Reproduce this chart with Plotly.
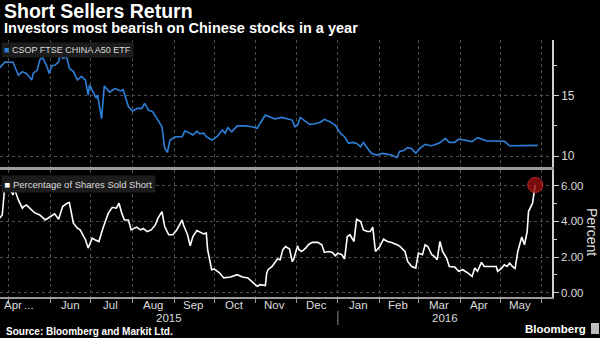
import plotly.graph_objects as go
import pandas as pd

# ---------------- data ----------------
etf_dates = [
    "2015-04-24", "2015-04-28", "2015-05-02", "2015-05-04", "2015-05-08", "2015-05-11", "2015-05-14",
    "2015-05-18", "2015-05-19", "2015-05-22", "2015-05-24", "2015-05-26", "2015-05-29", "2015-05-31",
    "2015-06-02", "2015-06-04", "2015-06-07", "2015-06-08", "2015-06-10", "2015-06-13", "2015-06-15",
    "2015-06-18", "2015-06-21", "2015-06-24", "2015-06-27", "2015-06-29", "2015-06-30", "2015-07-03",
    "2015-07-05", "2015-07-06", "2015-07-09", "2015-07-11", "2015-07-15", "2015-07-19", "2015-07-23",
    "2015-07-25", "2015-07-29", "2015-08-01", "2015-08-05", "2015-08-08", "2015-08-10", "2015-08-13",
    "2015-08-16", "2015-08-20", "2015-08-23", "2015-08-25", "2015-08-27", "2015-08-29", "2015-09-02",
    "2015-09-07", "2015-09-09", "2015-09-11", "2015-09-15", "2015-09-18", "2015-09-20", "2015-09-23",
    "2015-09-25", "2015-09-29", "2015-10-03", "2015-10-07", "2015-10-09", "2015-10-11", "2015-10-14",
    "2015-10-18", "2015-10-24", "2015-10-29", "2015-11-02", "2015-11-04", "2015-11-08", "2015-11-11",
    "2015-11-15", "2015-11-20", "2015-11-24", "2015-11-28", "2015-11-30", "2015-12-02", "2015-12-04",
    "2015-12-08", "2015-12-11", "2015-12-15", "2015-12-19", "2015-12-22", "2015-12-26", "2015-12-30",
    "2016-01-03", "2016-01-06", "2016-01-09", "2016-01-12", "2016-01-15", "2016-01-18", "2016-01-20",
    "2016-01-23", "2016-01-26", "2016-01-30", "2016-02-03", "2016-02-07", "2016-02-10", "2016-02-14",
    "2016-02-16", "2016-02-19", "2016-02-22", "2016-02-25", "2016-02-28", "2016-02-29", "2016-03-02",
    "2016-03-06", "2016-03-10", "2016-03-12", "2016-03-15", "2016-03-17", "2016-03-21", "2016-03-24",
    "2016-03-28", "2016-03-31", "2016-04-03", "2016-04-07", "2016-04-10", "2016-04-14", "2016-04-17",
    "2016-04-21", "2016-04-26", "2016-05-01", "2016-05-04", "2016-05-08", "2016-05-16", "2016-05-23",
    "2016-05-27", "2016-05-29",
]
etf_values = [
    17.3, 17.8, 17.77, 17.77, 16.7, 17.0, 16.85,
    16.3, 16.85, 17.1, 17.96, 18.2, 17.5, 16.85,
    17.5, 17.5, 17.8, 18.4, 18.1, 18.2, 17.27,
    17.0, 16.3, 16.6, 16.3, 15.05, 15.9, 15.3,
    14.8, 15.05, 13.1, 15.8, 15.3, 15.6, 15.4,
    15.5, 14.1, 13.73, 13.95, 13.95, 14.37, 13.8,
    13.67, 12.98, 12.43, 10.64, 10.3, 11.33, 11.6,
    11.6, 12.07, 12.0, 11.74, 12.07, 11.85, 11.9,
    11.6, 11.33, 11.6, 12.15, 11.88, 12.35, 12.0,
    12.5, 12.5, 12.43, 12.3, 12.7, 13.4, 13.26,
    13.07, 13.2, 13.07, 12.98, 12.43, 12.57, 13.2,
    12.85, 12.63, 12.68, 12.8, 13.04, 12.85, 12.57,
    11.88, 11.6, 11.05, 11.13, 11.05, 10.77, 11.13,
    10.64, 10.22, 10.08, 10.22, 10.14, 10.08, 9.86,
    10.38, 10.45, 10.69, 10.6, 10.22, 10.35, 10.64,
    10.97, 10.85, 10.9, 11.05, 11.1, 11.47, 11.13,
    11.13, 11.4, 11.35, 11.24, 11.2, 11.52, 11.4,
    11.24, 11.24, 11.19, 11.22, 10.85, 10.85, 10.85,
    10.9, 10.88,
]

short_dates = [
    "2015-04-24", "2015-04-26", "2015-04-28", "2015-04-30", "2015-05-02", "2015-05-04", "2015-05-05",
    "2015-05-08", "2015-05-11", "2015-05-12", "2015-05-14", "2015-05-17", "2015-05-20", "2015-05-24",
    "2015-05-28", "2015-06-01", "2015-06-04", "2015-06-07", "2015-06-10", "2015-06-13", "2015-06-15",
    "2015-06-18", "2015-06-21", "2015-06-23", "2015-06-27", "2015-06-29", "2015-07-02", "2015-07-04",
    "2015-07-07", "2015-07-10", "2015-07-14", "2015-07-17", "2015-07-20", "2015-07-22", "2015-07-24",
    "2015-07-26", "2015-07-29", "2015-07-31", "2015-08-04", "2015-08-07", "2015-08-09", "2015-08-12",
    "2015-08-15", "2015-08-18", "2015-08-20", "2015-08-23", "2015-08-25", "2015-08-28", "2015-08-31",
    "2015-09-03", "2015-09-07", "2015-09-08", "2015-09-11", "2015-09-13", "2015-09-15", "2015-09-18",
    "2015-09-20", "2015-09-23", "2015-09-25", "2015-09-26", "2015-09-29", "2015-10-01", "2015-10-05",
    "2015-10-08", "2015-10-13", "2015-10-18", "2015-10-22", "2015-10-26", "2015-10-30", "2015-11-02",
    "2015-11-04", "2015-11-08", "2015-11-09", "2015-11-10", "2015-11-13", "2015-11-15", "2015-11-17",
    "2015-11-19", "2015-11-21", "2015-11-23", "2015-11-26", "2015-11-28", "2015-11-29", "2015-12-02",
    "2015-12-03", "2015-12-05", "2015-12-08", "2015-12-10", "2015-12-13", "2015-12-17", "2015-12-20",
    "2015-12-22", "2015-12-25", "2015-12-28", "2015-12-30", "2016-01-01", "2016-01-04", "2016-01-06",
    "2016-01-08", "2016-01-10", "2016-01-13", "2016-01-14", "2016-01-15", "2016-01-18", "2016-01-20",
    "2016-01-23", "2016-01-25", "2016-01-27", "2016-01-29", "2016-02-01", "2016-02-04", "2016-02-07",
    "2016-02-10", "2016-02-14", "2016-02-16", "2016-02-20", "2016-02-22", "2016-02-25", "2016-02-28",
    "2016-03-01", "2016-03-04", "2016-03-06", "2016-03-08", "2016-03-11", "2016-03-13", "2016-03-15",
    "2016-03-17", "2016-03-19", "2016-03-22", "2016-03-24", "2016-03-28", "2016-03-31", "2016-04-03",
    "2016-04-07", "2016-04-10", "2016-04-12", "2016-04-14", "2016-04-17", "2016-04-19", "2016-04-23",
    "2016-04-28", "2016-04-29", "2016-05-02", "2016-05-04", "2016-05-06", "2016-05-08", "2016-05-10",
    "2016-05-12", "2016-05-14", "2016-05-17", "2016-05-19", "2016-05-21", "2016-05-22", "2016-05-25",
    "2016-05-26", "2016-05-27",
]
short_values = [
    4.18, 4.36, 6.04, 6.04, 5.76, 5.48, 5.85,
    5.2, 4.74, 4.83, 4.92, 4.68, 4.49, 4.36,
    4.08, 4.27, 4.42, 4.12, 4.83, 5.0, 5.05,
    3.9, 3.62, 3.52, 2.97, 2.5, 3.06, 2.97,
    2.87, 3.62, 4.46, 4.79, 4.74, 5.02, 4.46,
    4.08, 4.08, 3.52, 3.68, 3.52, 3.6, 3.43,
    3.52, 3.8, 4.18, 4.55, 3.71, 3.25, 3.25,
    3.52, 4.08, 3.8, 3.25, 2.63, 3.15, 3.49,
    3.43, 3.3, 3.34, 2.41, 1.29, 1.33, 1.1,
    0.83, 0.88, 1.01, 0.88, 0.83, 0.55, 0.36,
    0.45, 0.4, 1.1, 1.29, 1.47, 1.66, 1.89,
    1.85, 2.41, 2.59, 2.45, 1.75, 1.85, 2.63,
    2.41, 2.31, 2.5, 2.69, 2.82, 2.82, 2.69,
    2.26, 2.31, 2.26, 2.07, 2.22, 2.13, 1.89,
    3.15, 3.25, 2.87, 3.52, 4.12, 3.99, 3.52,
    3.43, 3.43, 3.68, 2.31, 2.56, 3.0, 2.87,
    2.82, 2.69, 2.61, 2.31, 1.75, 1.47, 1.38,
    2.22, 2.13, 2.69, 2.59, 2.13, 2.03, 1.85,
    2.87, 2.31, 1.94, 1.47, 1.44, 1.2, 1.29,
    1.1, 0.92, 1.38, 1.2, 1.7, 1.47, 1.47,
    1.47, 1.2, 1.38, 1.57, 1.47, 1.66, 1.47,
    1.35, 2.31, 3.12, 2.69, 3.43, 4.55, 5.02,
    5.58, 6.04,
]

month_starts = [
    "2015-05-01", "2015-06-01", "2015-07-01", "2015-08-01", "2015-09-01", "2015-10-01",
    "2015-11-01", "2015-12-01", "2016-01-01", "2016-02-01", "2016-03-01", "2016-04-01",
    "2016-05-01", "2016-06-01",
]
month_labels = ["...", "Jun", "Jul", "Aug", "Sep", "Oct", "Nov", "Dec", "Jan", "Feb", "Mar", "Apr", "May"]
month_label_pos = [
    "2015-05-16", "2015-06-16", "2015-07-16", "2015-08-16", "2015-09-15", "2015-10-16",
    "2015-11-15", "2015-12-16", "2016-01-16", "2016-02-15", "2016-03-16", "2016-04-15",
    "2016-05-16",
]
first_label = "Apr"
year_labels = ["2015", "2016"]
year_break = "2016-01-01"
x_range = ["2015-04-24 08:00", "2016-06-08 12:00"]

etf_ticks = [10, 15]
etf_minor = [12.5, 17.5]
short_ticks = [0, 2, 4, 6]
short_minor = [1, 3, 5]

# ---------------- style ----------------
BLUE = "#2d80d9"
GRID = "#4d4d4d"
AXIS = "#cfcfcf"
BORDER = "#9a9a9a"
TXT = "#dcdcdc"
FONT = "Liberation Sans, Arial, sans-serif"
BFONT = "Liberation Sans, Arial, sans-serif"

W, H = 600, 338
ML, MR, MT, MB = 0, 48, 40, 41
PH = H - MT - MB  # plot height in px
PW = W - ML - MR


def py(p):
    """pixel y (from top) -> paper y"""
    return (H - MB - p) / PH


def px(p):
    return (p - ML) / PW


fig = go.Figure()
fig.add_trace(go.Scatter(x=etf_dates, y=etf_values, mode="lines",
                         line=dict(color=BLUE, width=1.6), xaxis="x", yaxis="y",
                         hoverinfo="skip"))
fig.add_trace(go.Scatter(x=short_dates, y=short_values, mode="lines",
                         line=dict(color="#ffffff", width=1.6), xaxis="x2", yaxis="y2",
                         hoverinfo="skip"))
fig.add_trace(go.Scatter(x=[short_dates[-1]], y=[short_values[-1]], mode="markers",
                         marker=dict(size=15, color="rgba(150,15,15,0.8)",
                                     line=dict(color="rgba(210,40,40,0.9)", width=1)),
                         xaxis="x2", yaxis="y2", hoverinfo="skip"))

common_x = dict(type="date", range=x_range, tickvals=month_starts, showticklabels=False,
                showgrid=True, gridcolor=GRID, griddash="dot", gridwidth=1, zeroline=False)

yaxis_top = dict(domain=[py(167), 1], anchor="x", side="right", range=[9.09, 19.62],
                 tickvals=etf_ticks, ticks="outside", ticklen=5, tickcolor=AXIS,
                 tickfont=dict(family=BFONT, size=12, color=TXT),
                 minor=dict(tickvals=etf_minor, ticks="outside", ticklen=3, tickcolor=AXIS, showgrid=False),
                 showgrid=True, gridcolor=GRID, griddash="dot", zeroline=False,
                 showline=True, linecolor=AXIS, linewidth=1.5)
yaxis_bot = dict(domain=[0, py(170)], anchor="x2", side="right", range=[-0.24, 6.88],
                 tickvals=short_ticks, tickformat=".2f", ticks="outside", ticklen=5, tickcolor=AXIS,
                 tickfont=dict(family=BFONT, size=11.5, color=TXT),
                 minor=dict(tickvals=short_minor, ticks="outside", ticklen=3, tickcolor=AXIS, showgrid=False),
                 showgrid=True, gridcolor=GRID, griddash="dot", zeroline=False,
                 showline=True, linecolor=AXIS, linewidth=1.5)

fig.update_layout(
    width=W, height=H,
    margin=dict(l=ML, r=MR, t=MT, b=MB),
    paper_bgcolor="#000000", plot_bgcolor="#000000",
    showlegend=False,
    xaxis=dict(anchor="y", ticks="", showline=True, linecolor=BORDER, linewidth=1.5, **common_x),
    xaxis2=dict(anchor="y2", ticks="outside", ticklen=4, tickcolor=BORDER,
                showline=True, mirror=True, linecolor=BORDER, linewidth=1.5, **common_x),
    yaxis=yaxis_top,
    yaxis2=yaxis_bot,
)

ann = []
# title / subtitle
ann.append(dict(text="<b>Short Sellers Return</b>", xref="paper", yref="paper", x=px(2), y=py(11),
                xanchor="left", yanchor="middle", showarrow=False,
                font=dict(family=BFONT, size=19.5, color="#ffffff")))
ann.append(dict(text="<b>Investors most bearish on Chinese stocks in a year</b>", xref="paper", yref="paper",
                x=px(2), y=py(28), xanchor="left", yanchor="middle", showarrow=False,
                font=dict(family=BFONT, size=14.5, color="#ffffff")))
# legend boxes
ann.append(dict(text=f"<span style='color:{BLUE}'>■</span> CSOP FTSE CHINA A50 ETF", xref="paper", yref="paper",
                x=px(1), y=py(42), xanchor="left", yanchor="top", showarrow=False, bgcolor="#1c1c1c",
                borderpad=2, font=dict(family=FONT, size=9, color=TXT)))
ann.append(dict(text="<span style='color:#ffffff'>■</span> Percentage of Shares Sold Short", xref="paper",
                yref="paper", x=px(1), y=py(175), xanchor="left", yanchor="top", showarrow=False,
                bgcolor="#1c1c1c", borderpad=2.5, font=dict(family=FONT, size=9.5, color=TXT)))
# month labels
ann.append(dict(text=first_label, xref="paper", yref="paper", x=px(2), y=py(305), xanchor="left",
                yanchor="middle", showarrow=False, font=dict(family=FONT, size=11.5, color=TXT)))
for lab, pos in zip(month_labels, month_label_pos):
    ann.append(dict(text=lab, xref="x2", yref="paper", x=pos, y=py(305), xanchor="center",
                    yanchor="middle", showarrow=False, font=dict(family=FONT, size=11.5, color=TXT)))
# year labels centred in their visible spans
t0, t1, tb = pd.Timestamp(x_range[0]), pd.Timestamp(x_range[1]), pd.Timestamp(year_break)
year_pos = [t0 + (tb - t0) / 2, tb + (t1 - tb) / 2]
for lab, pos in zip(year_labels, year_pos):
    ann.append(dict(text=lab, xref="x2", yref="paper", x=pos.strftime("%Y-%m-%d %H:%M"), y=py(318),
                    xanchor="center", yanchor="middle", showarrow=False,
                    font=dict(family=FONT, size=11.5, color=TXT)))
# axis title
ann.append(dict(text="Percent", xref="paper", yref="paper", x=px(592), y=py(232), textangle=90,
                xanchor="center", yanchor="middle", showarrow=False,
                font=dict(family=BFONT, size=14, color=TXT)))
# source & logo
ann.append(dict(text="<b>Source: Bloomberg and Markit Ltd.</b>", xref="paper", yref="paper", x=px(4),
                y=py(331), xanchor="left", yanchor="middle", showarrow=False,
                font=dict(family=BFONT, size=10, color="#ffffff")))
ann.append(dict(text="<b>Bloomberg</b>", xref="paper", yref="paper", x=px(588), y=py(329),
                xanchor="right", yanchor="middle", showarrow=False,
                font=dict(family=BFONT, size=11.5, color="#ffffff")))
fig.update_layout(annotations=ann)

fig.update_layout(shapes=[
    dict(type="line", xref="x2", yref="paper", x0=year_break, x1=year_break, y0=py(311), y1=py(325),
         line=dict(color="#8a8a8a", width=1)),
    dict(type="rect", xref="paper", yref="paper", x0=px(591), x1=px(599), y0=py(334), y1=py(323),
         fillcolor="#bdbdbd", line=dict(width=0)),
])

fig.write_html("out.html")
